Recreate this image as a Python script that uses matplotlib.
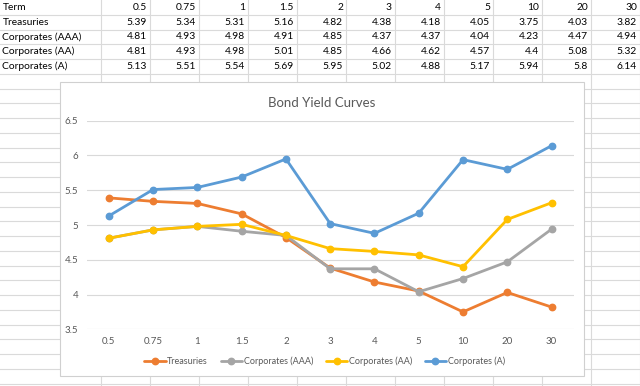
import matplotlib
matplotlib.use("Agg")
import matplotlib.pyplot as plt
from matplotlib.patches import Rectangle

plt.rcParams['font.family'] = ['Lato', 'DejaVu Sans']

terms = ["0.5", "0.75", "1", "1.5", "2", "3", "4", "5", "10", "20", "30"]
treasuries = [5.39, 5.34, 5.31, 5.16, 4.82, 4.38, 4.18, 4.05, 3.75, 4.03, 3.82]
corp_aaa = [4.81, 4.93, 4.98, 4.91, 4.85, 4.37, 4.37, 4.04, 4.23, 4.47, 4.94]
corp_aa = [4.81, 4.93, 4.98, 5.01, 4.85, 4.66, 4.62, 4.57, 4.4, 5.08, 5.32]
corp_a = [5.13, 5.51, 5.54, 5.69, 5.95, 5.02, 4.88, 5.17, 5.94, 5.8, 6.14]
series_names = ["Treasuries", "Corporates (AAA)", "Corporates (AA)", "Corporates (A)"]
series_values = [treasuries, corp_aaa, corp_aa, corp_a]
colors = ["#ED7D31", "#A5A5A5", "#FFC000", "#5B9BD5"]
title = "Bond Yield Curves"
y_ticks = [3.5, 4, 4.5, 5, 5.5, 6, 6.5]

W, H = 640, 386
fig = plt.figure(figsize=(W / 100, H / 100), dpi=100)

# spreadsheet background in pixel coordinates
bg = fig.add_axes([0, 0, 1, 1])
bg.set_xlim(0, W)
bg.set_ylim(H, 0)
bg.axis("off")
grid_c = "#DADADA"
row_h = 14.75
col_a = 100.5
col_w = 49.0
r = row_h
while r < H:
    bg.plot([0, W], [r, r], color=grid_c, lw=0.8, zorder=1)
    r += row_h
for k in range(0, 12):
    xx = col_a + col_w * k
    bg.plot([xx, xx], [0, H], color=grid_c, lw=0.8, zorder=1)

table_fs = 7.4
tc = "#000000"
bg.text(2.5, row_h * 0.5, "Term", ha="left", va="center", fontsize=table_fs, color=tc, zorder=2)
for j, t in enumerate(terms):
    bg.text(col_a + col_w * (j + 1) - 2.5, row_h * 0.5, t, ha="right", va="center",
            fontsize=table_fs, color=tc, zorder=2)
for i, (name, vals) in enumerate(zip(series_names, series_values)):
    yy = row_h * (i + 1.5)
    bg.text(2.5, yy, name, ha="left", va="center", fontsize=table_fs, color=tc, zorder=2)
    for j, v in enumerate(vals):
        bg.text(col_a + col_w * (j + 1) - 2.5, yy, f"{v:g}", ha="right", va="center",
                fontsize=table_fs, color=tc, zorder=2)

# chart box
bg.add_patch(Rectangle((60, 82.3), 524.3, 293.7, facecolor="white", edgecolor="#D0D0D0",
                       lw=0.8, zorder=5))
bg.text(322, 103, title, ha="center", va="center", fontsize=9.5, color="#595959", zorder=6)

# plot area
left, right = 86.7, 573.7
top, bottom = 120.7, 329.3
ax = fig.add_axes([left / W, 1 - bottom / H, (right - left) / W, (bottom - top) / H])
ax.set_facecolor("none")
x = list(range(len(terms)))
for name, vals, c in zip(series_names, series_values, colors):
    ax.plot(x, vals, color=c, lw=2.0, marker="o", markersize=4.6, label=name,
            solid_capstyle="round", zorder=3)
ax.set_xlim(-0.5, len(terms) - 0.5)
ax.set_ylim(3.5, 6.5)
ax.set_yticks(y_ticks)
ax.set_yticklabels([f"{v:g}" for v in y_ticks])
ax.set_xticks(x)
ax.set_xticklabels(terms)
ax.grid(axis="y", color="#D9D9D9", lw=0.8, zorder=0)
ax.grid(axis="x", visible=False)
for s in ax.spines.values():
    s.set_visible(False)
ax.tick_params(axis="both", length=0, labelsize=7.0, colors="#595959")
ax.tick_params(axis="x", pad=5.5)
ax.tick_params(axis="y", pad=6)

leg = fig.legend(loc="center", bbox_to_anchor=(324.5 / W, 1 - 361 / H), ncol=4,
                 frameon=False, fontsize=6.5, handlelength=2.4, handletextpad=0.15,
                 columnspacing=1.4, labelcolor="#595959")

fig.savefig("out.png", dpi=100)
